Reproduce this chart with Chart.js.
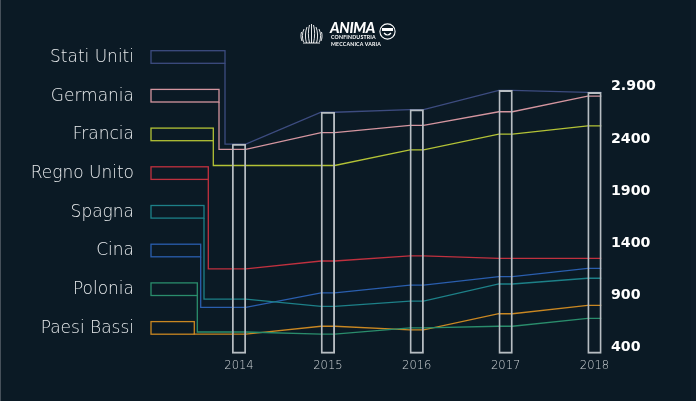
<!DOCTYPE html>
<html>
<head>
<meta charset="utf-8">
<script src="https://cdn.jsdelivr.net/npm/chart.js@4.4.0/dist/chart.umd.min.js"></script>
<style>
  html, body { margin: 0; padding: 0; background: #0b1a25; }
  #wrap { position: relative; width: 696px; height: 401px; overflow: hidden; background: #0b1a25; }
  #edgeL { position: absolute; left: 0; top: 0; width: 1px; height: 401px; background: #46505a; }
  #edgeR { position: absolute; left: 691px; top: 0; width: 5px; height: 401px; background: #0e1c28; }
  canvas { position: absolute; left: 0; top: 0; }
  #logo { position: absolute; left: 300px; top: 21px; width: 100px; height: 26px; color: #fff; font-family: Lato, "DejaVu Sans", sans-serif; }
  #logo .anima { position: absolute; left: 30px; top: -2.5px; font-size: 14.5px; font-weight: 900; font-style: italic; letter-spacing: -0.3px; }
  #logo .sub { position: absolute; left: 31px; font-size: 5.2px; font-weight: 700; letter-spacing: 0.2px; line-height: 6px; white-space: nowrap; }
  #logo .s1 { top: 12.5px; }
  #logo .s2 { top: 19.5px; }
</style>
</head>
<body>
<div id="wrap">
  <canvas id="c" width="696" height="401"></canvas>
  <div id="edgeL"></div>
  <div id="edgeR"></div>
  <div id="logo">
    <svg style="position:absolute;left:0;top:1px" width="23" height="23" viewBox="0 0 23 23">
      <g fill="none" stroke="#ffffff" stroke-width="0.9">
        <path d="M11.5 2 L11.5 21"/>
        <path d="M9.5 3 C8 8 8 15 9.5 21"/>
        <path d="M13.5 3 C15 8 15 15 13.5 21"/>
        <path d="M7 5 C5 10 5 16 6.5 21"/>
        <path d="M16 5 C18 10 18 16 16.5 21"/>
        <path d="M4 7 C2 11 2 16 3.5 20"/>
        <path d="M19 7 C21 11 21 16 19.5 20"/>
        <path d="M1.5 10 C0.5 13 1 17 2 19"/>
        <path d="M21.5 10 C22.5 13 22 17 21 19"/>
        <path d="M3 21 L20 21"/>
      </g>
    </svg>
    <div class="anima">ANIMA</div>
    <div class="sub s1">CONFINDUSTRIA</div>
    <div class="sub s2">MECCANICA VARIA</div>
    <svg style="position:absolute;left:79px;top:2px" width="17" height="17" viewBox="0 0 17 17">
      <circle cx="8.5" cy="8.5" r="7.6" fill="none" stroke="#ffffff" stroke-width="1.1"/>
      <rect x="3" y="5" width="11" height="3" fill="#ffffff"/>
      <path d="M5 10 Q8.5 14 12 10" fill="none" stroke="#ffffff" stroke-width="1.2"/>
    </svg>
  </div>
</div>
<script>
// ---------------- DATA ----------------
const years = [2014, 2015, 2016, 2017, 2018];
const countries = ['Stati Uniti', 'Germania', 'Francia', 'Regno Unito', 'Spagna', 'Cina', 'Polonia', 'Paesi Bassi'];
const statiUniti = [2350, 2655, 2680, 2865, 2845];
const germania   = [2300, 2460, 2530, 2660, 2810];
const francia    = [2145, 2145, 2295, 2445, 2525];
const regnoUnito = [1155, 1230, 1280, 1255, 1255];
const spagna     = [865, 795, 845, 1010, 1065];
const cina       = [785, 925, 1000, 1080, 1160];
const polonia    = [550, 530, 590, 605, 680];
const paesiBassi = [530, 605, 570, 725, 805];
const yTicks      = [400, 900, 1400, 1900, 2400, 2900];
const yTickLabels = ['400', '900', '1400', '1900', '2400', '2.900'];

// ---------------- STYLE ----------------
const seriesList = [statiUniti, germania, francia, regnoUnito, spagna, cina, polonia, paesiBassi];
const colors = ['#3d4c80', '#d4959f', '#b3c236', '#c0313f', '#1d8088', '#2a5eae', '#2a8d6c', '#c98722'];
const BAR_HALF = 0.0765;   // half width of year columns, in year units
const BAR_BASE = 345;      // bottom of the year columns (value units)
const LEG_LEFT = 151, LEG_TOP0 = 50.7, LEG_STEP = 38.7, LEG_H = 12.6, LEG_TEXT_RIGHT = 134;
const LEG_RIGHTS = [225, 219, 213.3, 208.3, 204, 200.7, 197.3, 194.3];
const FONT_LABEL = '"DejaVu Sans", sans-serif';

const lineSets = seriesList.map((vals, k) => ({
  type: 'line',
  label: countries[k],
  order: 1,
  data: years.flatMap((yr, i) => [{ x: yr - BAR_HALF, y: vals[i] }, { x: yr + BAR_HALF, y: vals[i] }]),
  borderColor: colors[k],
  borderWidth: 1.3,
  pointRadius: 0,
  tension: 0,
  fill: false
}));
const barTops = years.map((yr, i) => Math.max(...seriesList.map(s => s[i])));
const barSet = {
  type: 'bar',
  label: 'anni',
  order: 0,
  data: years.map((yr, i) => ({ x: yr, y: [BAR_BASE, barTops[i]] })),
  backgroundColor: 'rgba(0,0,0,0)',
  borderColor: '#b7bdc2',
  borderWidth: 1.2,
  borderSkipped: false,
  barThickness: 13.6
};

const sideLegend = {
  id: 'sideLegend',
  afterDatasetsDraw(chart) {
    const ctx = chart.ctx;
    const xs = chart.scales.x, ys = chart.scales.y;
    ctx.save();
    countries.forEach((name, k) => {
      const top = LEG_TOP0 + k * LEG_STEP;
      const right = LEG_RIGHTS[k];
      ctx.strokeStyle = colors[k];
      ctx.lineWidth = 1.3;
      ctx.strokeRect(LEG_LEFT, top, right - LEG_LEFT, LEG_H);
      const yv = ys.getPixelForValue(seriesList[k][0]);
      const x0 = xs.getPixelForValue(years[0] - BAR_HALF);
      ctx.beginPath();
      ctx.moveTo(right, top + LEG_H);
      ctx.lineTo(right, yv);
      ctx.lineTo(x0, yv);
      ctx.stroke();
      ctx.fillStyle = '#e8ebed';
      ctx.font = '200 17px ' + FONT_LABEL;
      ctx.textAlign = 'right';
      ctx.textBaseline = 'middle';
      ctx.fillText(name, LEG_TEXT_RIGHT, top + LEG_H / 2 + 0.5);
    });
    ctx.restore();
  }
};

new Chart(document.getElementById('c'), {
  type: 'line',
  data: { datasets: [barSet, ...lineSets] },
  options: {
    responsive: false,
    animation: false,
    layout: { padding: { top: 34.5, left: 0, right: 0, bottom: 0 } },
    plugins: { legend: { display: false }, tooltip: { enabled: false } },
    scales: {
      x: {
        type: 'linear',
        min: 2014 - 239 / 88.875,
        max: 2018 + 7.5 / 88.875,
        offset: false,
        grid: { display: false, drawTicks: false },
        border: { display: false },
        afterBuildTicks: s => { s.ticks = years.map(v => ({ value: v })); },
        afterFit: s => { s.height = 42.9; },
        ticks: {
          color: '#cdd2d5',
          font: { family: FONT_LABEL, size: 11.5, weight: '200' },
          padding: 1,
          autoSkip: false,
          maxRotation: 0,
          callback: v => String(v)
        }
      },
      y: {
        type: 'linear',
        position: 'right',
        min: 300,
        max: 3400,
        grid: { display: false, drawTicks: false },
        border: { display: false },
        afterBuildTicks: s => { s.ticks = yTicks.map(v => ({ value: v })); },
        afterFit: s => { s.width = 94; },
        ticks: {
          color: '#ffffff',
          font: { family: '"DejaVu Sans", sans-serif', size: 14.2, weight: 'bold' },
          padding: 9,
          autoSkip: false,
          callback: (v, i) => yTickLabels[i]
        }
      }
    }
  },
  plugins: [sideLegend]
});
</script>
</body>
</html>
